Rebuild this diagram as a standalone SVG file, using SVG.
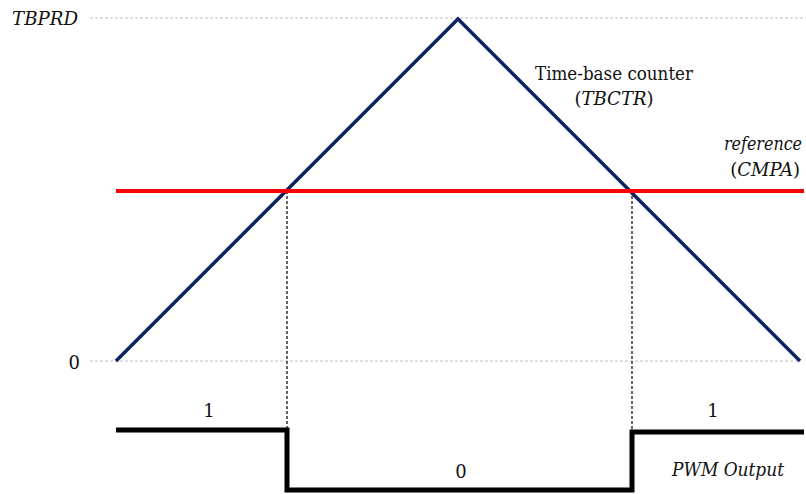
<svg xmlns="http://www.w3.org/2000/svg" width="806" height="494" viewBox="0 0 806 494">
<style>
text{font-family:'DejaVu Serif','Liberation Serif',serif;font-size:18px;fill:#111}
.it{font-style:italic}
.grid{stroke:#bfbfbf;stroke-width:1;stroke-dasharray:3 2;fill:none}
.vdash{stroke:#000;stroke-width:1.2;stroke-dasharray:3 2;fill:none}
.tri{stroke:#0b2461;stroke-width:3.5;fill:none;stroke-linejoin:miter}
.ref{stroke:#ff0000;stroke-width:4;fill:none}
.pwm{stroke:#000;stroke-width:5;fill:none;stroke-linejoin:miter}
</style>
<rect width="806" height="494" fill="#fff"/>
<g id="axes">
<line class="grid" x1="90" y1="18" x2="806" y2="18"/>
<line class="grid" x1="90" y1="361" x2="800" y2="361"/>
<text class="it" x="12" y="25" font-size="19" textLength="66" lengthAdjust="spacingAndGlyphs">TBPRD</text>
<text x="80" y="369" text-anchor="end" font-size="19">0</text>
</g>
<g id="connectors">
<line class="vdash" x1="287" y1="191" x2="287" y2="430"/>
<line class="vdash" x1="632" y1="191" x2="632" y2="432"/>
</g>
<g id="counter">
<polyline class="tri" points="116,361 458,19 800,361"/>
<text x="535" y="80" font-size="19" textLength="158" lengthAdjust="spacingAndGlyphs">Time-base counter</text>
<text x="614" y="105" text-anchor="middle">(<tspan class="it">TBCTR</tspan>)</text>
</g>
<g id="reference">
<line class="ref" x1="116" y1="191" x2="804" y2="191"/>
<text class="it" x="724" y="150" textLength="78" lengthAdjust="spacingAndGlyphs">reference</text>
<text x="800" y="176" text-anchor="end">(<tspan class="it">CMPA</tspan>)</text>
</g>
<g id="pwm">
<polyline class="pwm" points="116,430 287,430 287,490 632,490 632,432 804,432"/>
<text x="209" y="417" text-anchor="middle" font-size="19">1</text>
<text x="713" y="417" text-anchor="middle" font-size="19">1</text>
<text x="461" y="478" text-anchor="middle" font-size="19">0</text>
<text class="it" x="672" y="476" textLength="112" lengthAdjust="spacingAndGlyphs">PWM Output</text>
</g>
</svg>
